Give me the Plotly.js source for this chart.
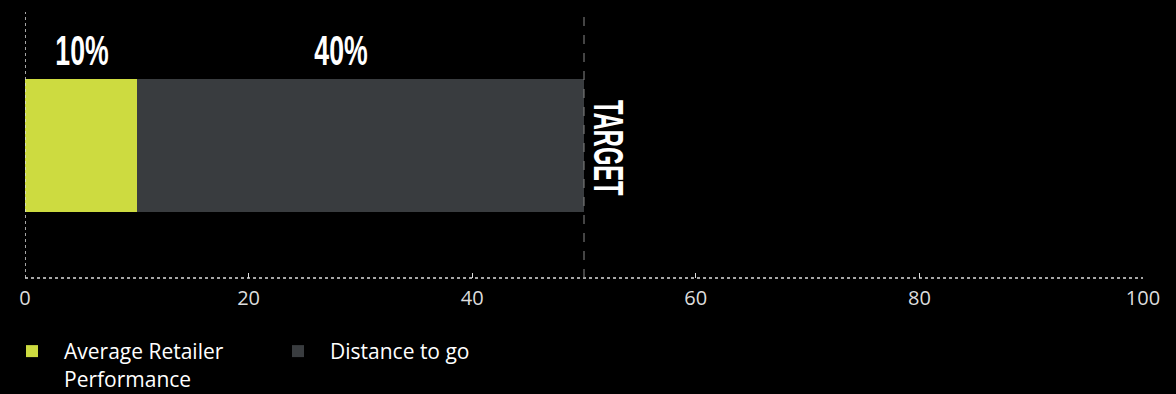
<!DOCTYPE html>
<html>
<head>
<meta charset="utf-8">
<script src="https://cdn.plot.ly/plotly-3.0.1.min.js"></script>
<style>html,body{margin:0;padding:0;background:#000;}#chart{width:1176px;height:394px;}</style>
</head>
<body>
<div id="chart"></div>
<script>
const category = ['Progress'];
const seriesNames = ['Average Retailer<br>Performance', 'Distance to go'];
const performance = [10];
const distanceToGo = [40];
const target = 50;
const targetLabel = 'TARGET';
const xTicks = [0, 20, 40, 60, 80, 100];

const colors = ['#cddb40', '#393c3f'];

const traces = [
  {type: 'bar', orientation: 'h', y: category, x: performance, name: seriesNames[0],
   marker: {color: colors[0]}, width: 0.5, hoverinfo: 'x'},
  {type: 'bar', orientation: 'h', y: category, x: distanceToGo, name: seriesNames[1],
   marker: {color: colors[1]}, width: 0.5, hoverinfo: 'x'}
];

const labelFont = {family: 'Liberation Sans, Arial, sans-serif', size: 43, color: '#ffffff', weight: 'bold'};
const annotations = [];
let start = 0;
[performance[0], distanceToGo[0]].forEach((v, i) => {
  annotations.push({x: start + v / 2, y: 0.25, xref: 'x', yref: 'y', text: v + '%',
    showarrow: false, yanchor: 'bottom', yshift: 3, xshift: i === 1 ? -19 : 1, font: labelFont});
  start += v;
});
annotations.push({x: target, y: 0, xref: 'x', yref: 'y', text: targetLabel, textangle: 90,
  showarrow: false, xanchor: 'left', xshift: -1, yshift: -3, font: labelFont});
const condense = [0.62, 0.62, 0.55];

const layout = {
  width: 1176, height: 394,
  paper_bgcolor: '#000', plot_bgcolor: '#000',
  margin: {l: 25, r: 33, t: 12, b: 116},
  barmode: 'stack',
  showlegend: true,
  xaxis: {range: [0, 100], tickvals: xTicks, ticks: 'inside', ticklen: 5, tickcolor: '#dddddd',
    ticklabelstandoff: 6,
    showgrid: false, zeroline: false, showline: false,
    tickfont: {family: 'Open Sans, sans-serif', size: 20, color: '#dddddd'}, fixedrange: true},
  yaxis: {range: [-0.5, 0.5], type: 'category', showticklabels: false, showgrid: false,
    zeroline: false, showline: false, ticks: '', fixedrange: true},
  shapes: [
    {type: 'line', xref: 'x', yref: 'paper', x0: 0, x1: 100, y0: 0, y1: 0,
     line: {color: '#dddddd', width: 1.5, dash: 'dot'}},
    {type: 'line', xref: 'x', yref: 'paper', x0: 0, x1: 0, y0: 0, y1: 1,
     line: {color: '#dddddd', width: 1.5, dash: 'dot'}},
    {type: 'line', xref: 'x', yref: 'paper', x0: target, x1: target, y0: 0, y1: 1,
     line: {color: '#888888', width: 1, dash: 'dash'}}
  ],
  annotations: annotations,
  legend: {orientation: 'h', xref: 'container', yref: 'container', x: 0, xanchor: 'left',
    y: 0.16, yanchor: 'top',
    valign: 'top', itemwidth: 54, entrywidth: 197, entrywidthmode: 'pixels',
    font: {family: 'Open Sans, sans-serif', size: 21, color: '#ffffff'},
    bgcolor: 'rgba(0,0,0,0)', traceorder: 'normal'}
};

const gd = document.getElementById('chart');
Plotly.newPlot(gd, traces, layout, {displayModeBar: false, staticPlot: true}).then(() => {
  gd.querySelectorAll('.annotation-text').forEach((t, i) => {
    const bb = t.getBBox();
    const cx = bb.x + bb.width / 2;
    const s = condense[i] || 1;
    t.setAttribute('transform', 'translate(' + cx + ',0) scale(' + s + ',1) translate(' + (-cx) + ',0)');
  });
});
</script>
</body>
</html>
